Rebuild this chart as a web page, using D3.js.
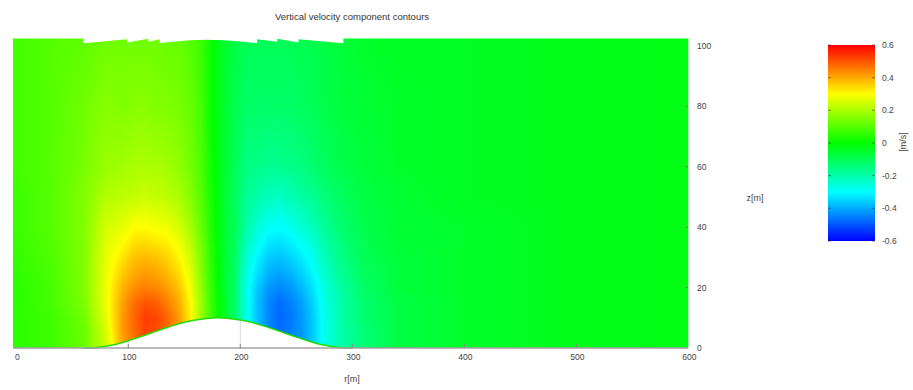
<!DOCTYPE html>
<html>
<head>
<meta charset="utf-8">
<script src="https://cdn.jsdelivr.net/npm/d3@7"></script>
<style>
  body { margin: 0; background: #fff; }
  svg { font-family: "Liberation Sans", Arial, sans-serif; }
</style>
</head>
<body>
<svg id="chart" width="913" height="390"></svg>
<script>
// grid positions (m)
const rGrid = [0, 30, 60, 80, 95, 105, 115, 125, 135, 145, 155, 165, 175, 185, 195, 205, 215, 225, 235, 245, 255, 265, 275, 290, 310, 340, 400, 500, 600];
const zGrid = [0, 5, 10, 15, 20, 30, 40, 50, 60, 80, 103];

// vertical velocity (m/s), one row per z level
const wZ0   = [.05, .07, .12, .24, .40, .45, .49, .48, .45, .40, .31, .18, .06, -.04, -.12, -.27, -.37, -.44, -.47, -.45, -.42, -.36, -.28, -.20, -.14, -.08, -.05, -.03, -.02];
const wZ5   = [.05, .07, .12, .25, .42, .47, .52, .51, .47, .41, .32, .18, .06, -.04, -.12, -.27, -.37, -.44, -.47, -.45, -.42, -.36, -.28, -.20, -.14, -.08, -.05, -.03, -.02];
const wZ10  = [.05, .07, .13, .27, .42, .48, .53, .52, .48, .42, .32, .18, .06, -.04, -.12, -.27, -.37, -.44, -.48, -.46, -.42, -.36, -.28, -.20, -.13, -.08, -.05, -.03, -.02];
const wZ15  = [.05, .08, .14, .28, .41, .47, .50, .49, .45, .40, .31, .18, .06, -.04, -.12, -.27, -.37, -.44, -.47, -.45, -.41, -.35, -.27, -.20, -.13, -.08, -.05, -.03, -.02];
const wZ20  = [.05, .08, .15, .28, .39, .43, .45, .44, .41, .37, .29, .17, .05, -.05, -.12, -.27, -.36, -.42, -.44, -.42, -.38, -.33, -.26, -.19, -.12, -.07, -.05, -.03, -.02];
const wZ30  = [.06, .09, .15, .27, .33, .37, .38, .37, .35, .31, .25, .15, .04, -.05, -.11, -.24, -.31, -.36, -.37, -.35, -.32, -.28, -.22, -.16, -.10, -.07, -.05, -.03, -.02];
const wZ40  = [.07, .10, .15, .25, .27, .30, .30, .29, .28, .25, .20, .12, .03, -.05, -.10, -.19, -.25, -.29, -.30, -.28, -.25, -.22, -.18, -.13, -.09, -.06, -.05, -.03, -.02];
const wZ50  = [.07, .10, .15, .21, .22, .23, .24, .23, .22, .20, .16, .10, .02, -.05, -.11, -.17, -.20, -.22, -.23, -.21, -.19, -.17, -.14, -.11, -.08, -.06, -.04, -.03, -.02];
const wZ60  = [.08, .10, .14, .18, .19, .20, .20, .20, .19, .17, .14, .09, .01, -.05, -.10, -.15, -.16, -.17, -.17, -.16, -.15, -.13, -.11, -.09, -.07, -.05, -.04, -.03, -.02];
const wZ80  = [.08, .10, .13, .16, .15, .16, .16, .15, .15, .14, .12, .08, .00, -.05, -.09, -.12, -.12, -.12, -.12, -.12, -.11, -.10, -.09, -.07, -.06, -.05, -.04, -.03, -.02];
const wZ103 = [.08, .10, .11, .13, .13, .13, .13, .13, .12, .12, .10, .07, .00, -.05, -.08, -.10, -.10, -.10, -.10, -.10, -.09, -.09, -.08, -.07, -.05, -.04, -.04, -.03, -.02];
const wRows = [wZ0, wZ5, wZ10, wZ15, wZ20, wZ30, wZ40, wZ50, wZ60, wZ80, wZ103];

// hill (terrain) profile
const hillR = [60, 70, 80, 90, 100, 110, 120, 130, 140, 150, 160, 170, 180, 190, 200, 210, 220, 230, 240, 250, 260, 270, 280, 290, 300];
const hillZ = [0, 0.1, 0.6, 1.3, 2.4, 3.6, 4.9, 6.2, 7.4, 8.5, 9.3, 9.8, 10, 9.8, 9.3, 8.5, 7.4, 6.2, 4.9, 3.6, 2.4, 1.3, 0.6, 0.1, 0];

// mesh top boundary [r, z]
const topEdge = [[-3, 102.5], [60, 102.5], [60, 100.9], [99, 102.2], [99, 101.2], [118, 102.4], [118, 101.4], [128, 102.2], [128, 101],
  [142, 101.5], [155, 101.9], [170, 102.1], [186, 101.9], [200, 101.5], [215, 101], [215, 102.2], [233, 101.4], [233, 102.4],
  [252, 101.2], [252, 102.2], [292, 100.9], [292, 102.5], [600, 102.5]];

const xTicks = [0, 100, 200, 300, 400, 500, 600];
const zTicks = [0, 20, 40, 60, 80, 100];
const cbTicks = [-0.6, -0.4, -0.2, 0, 0.2, 0.4, 0.6];

const svg = d3.select('#chart');
const x = d3.scaleLinear().domain([0, 600]).range([16.3, 688.3]);
const y = d3.scaleLinear().domain([0, 100]).range([348, 46]);
const color = d3.scaleLinear()
  .domain([-0.6, -0.3, 0, 0.3, 0.6])
  .range(['#0000ff', '#00ffff', '#00ff00', '#ffff00', '#ff0000'])
  .clamp(true);

// grid lines behind the field
svg.append('g').selectAll('line').data(xTicks.slice(1, -1)).enter().append('line')
  .attr('x1', d => x(d)).attr('x2', d => x(d))
  .attr('y1', y(0)).attr('y2', y(100))
  .attr('stroke', '#d8d8d8').attr('stroke-width', 1);

// field raster
function valueAt(r, z) {
  let i = Math.min(Math.max(d3.bisectRight(rGrid, r) - 1, 0), rGrid.length - 2);
  let j = Math.min(Math.max(d3.bisectRight(zGrid, z) - 1, 0), zGrid.length - 2);
  const tr = Math.min(Math.max((r - rGrid[i]) / (rGrid[i + 1] - rGrid[i]), 0), 1);
  const tz = Math.min(Math.max((z - zGrid[j]) / (zGrid[j + 1] - zGrid[j]), 0), 1);
  const a = wRows[j][i] * (1 - tr) + wRows[j][i + 1] * tr;
  const b = wRows[j + 1][i] * (1 - tr) + wRows[j + 1][i + 1] * tr;
  return a * (1 - tz) + b * tz;
}

const px0 = Math.floor(x(-3)), px1 = Math.ceil(x(600));
const py0 = Math.floor(y(102.5)), py1 = Math.ceil(y(0));
const cw = px1 - px0, ch = py1 - py0;
const canvas = document.createElement('canvas');
canvas.width = cw; canvas.height = ch;
const ctx = canvas.getContext('2d');
const img = ctx.createImageData(cw, ch);
for (let i = 0; i < cw; i++) {
  const r = x.invert(px0 + i + 0.5);
  for (let j = 0; j < ch; j++) {
    const z = y.invert(py0 + j + 0.5);
    const c = d3.rgb(color(valueAt(r, z)));
    const k = (j * cw + i) * 4;
    img.data[k] = c.r; img.data[k + 1] = c.g; img.data[k + 2] = c.b; img.data[k + 3] = 255;
  }
}
ctx.putImageData(img, 0, 0);

// domain outline: top edge, right side, bottom with hill
const bottom = [[600, 0], [300, 0]];
for (let k = hillR.length - 1; k >= 0; k--) bottom.push([hillR[k], hillZ[k]]);
bottom.push([-3, 0]);
const poly = d3.line().x(d => x(d[0])).y(d => y(d[1]));
svg.append('clipPath').attr('id', 'domain')
  .append('path').attr('d', poly(topEdge.concat(bottom)) + 'Z');

svg.append('image')
  .attr('x', px0).attr('y', py0).attr('width', cw).attr('height', ch)
  .attr('preserveAspectRatio', 'none')
  .attr('href', canvas.toDataURL())
  .attr('clip-path', 'url(#domain)');

// hill surface
const hillLine = d3.line().x((d, k) => x(hillR[k])).y(d => y(d)).curve(d3.curveMonotoneX);
svg.append('path').attr('d', hillLine(hillZ))
  .attr('fill', 'none').attr('stroke', '#22dd00').attr('stroke-width', 1.5);

// x axis
svg.append('line').attr('x1', x(-3)).attr('x2', x(600)).attr('y1', y(0)).attr('y2', y(0))
  .attr('stroke', '#a0a0a0').attr('stroke-width', 1.5);
svg.append('g').selectAll('line').data(xTicks.slice(1, -1)).enter().append('line')
  .attr('x1', d => x(d)).attr('x2', d => x(d)).attr('y1', y(0)).attr('y2', y(0) - 4)
  .attr('stroke', '#888');
svg.append('g').selectAll('text').data(xTicks).enter().append('text')
  .attr('x', d => x(d) + 1).attr('y', y(0) + 12)
  .attr('text-anchor', 'middle').attr('font-size', 8.5).attr('fill', '#444')
  .text(d => d);

// z axis (right)
svg.append('g').selectAll('line').data(zTicks.slice(1, -1)).enter().append('line')
  .attr('x1', x(600)).attr('x2', x(600) - 3).attr('y1', d => y(d)).attr('y2', d => y(d))
  .attr('stroke', '#777');
svg.append('g').selectAll('text').data(zTicks).enter().append('text')
  .attr('x', 697).attr('y', d => y(d) + 3)
  .attr('font-size', 8.5).attr('fill', '#444')
  .text(d => d);

// labels
svg.append('text').attr('x', 352).attr('y', 20).attr('text-anchor', 'middle')
  .attr('font-size', 9.5).attr('fill', '#333').text('Vertical velocity component contours');
svg.append('text').attr('x', 352).attr('y', 382).attr('text-anchor', 'middle')
  .attr('font-size', 9).attr('fill', '#444').text('r[m]');
svg.append('text').attr('x', 755).attr('y', 201).attr('text-anchor', 'middle')
  .attr('font-size', 9).attr('fill', '#444').text('z[m]');

// colour bar
const cb = d3.scaleLinear().domain([-0.6, 0.6]).range([241, 45]);
const cbX = 828, cbW = 47;
const grad = svg.append('defs').append('linearGradient').attr('id', 'cbgrad')
  .attr('x1', 0).attr('y1', 1).attr('x2', 0).attr('y2', 0);
d3.range(0, 1.0001, 0.05).forEach(t => {
  grad.append('stop').attr('offset', t).attr('stop-color', color(-0.6 + 1.2 * t));
});
svg.append('rect').attr('x', cbX).attr('y', cb(0.6)).attr('width', cbW).attr('height', cb(-0.6) - cb(0.6))
  .attr('fill', 'url(#cbgrad)');
const cbt = svg.append('g');
cbt.selectAll('.tl').data(cbTicks).enter().append('line')
  .attr('x1', cbX).attr('x2', cbX + 3).attr('y1', d => cb(d)).attr('y2', d => cb(d))
  .attr('stroke', '#333').attr('stroke-opacity', 0.6);
cbt.selectAll('.tr').data(cbTicks).enter().append('line')
  .attr('x1', cbX + cbW - 3).attr('x2', cbX + cbW).attr('y1', d => cb(d)).attr('y2', d => cb(d))
  .attr('stroke', '#333').attr('stroke-opacity', 0.6);
cbt.selectAll('text').data(cbTicks).enter().append('text')
  .attr('x', 882).attr('y', d => cb(d) + 3)
  .attr('font-size', 8.5).attr('fill', '#444')
  .text(d => d === 0 ? '0' : d.toFixed(1));
svg.append('text').attr('transform', 'translate(906,142) rotate(-90)')
  .attr('text-anchor', 'middle').attr('font-size', 9).attr('fill', '#444').text('[m/s]');
</script>
</body>
</html>
